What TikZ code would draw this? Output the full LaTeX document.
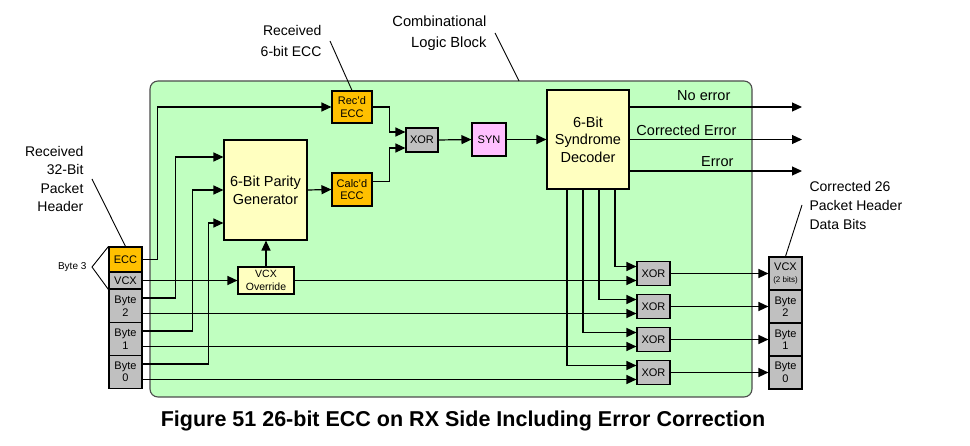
\documentclass[tikz,border=0pt]{standalone}
\usepackage{fontspec}
\setmainfont{Liberation Sans}
\usetikzlibrary{arrows.meta}
\definecolor{blockgreen}{HTML}{C0FFC0}
\definecolor{eccorange}{HTML}{FFC000}
\definecolor{boxgray}{HTML}{C0C0C0}
\definecolor{genyellow}{HTML}{FFFFC0}
\definecolor{synpink}{HTML}{FFC0FF}
\newcommand{\fsz}[2]{\fontsize{#1}{#2}\selectfont}

\begin{document}
\begin{tikzpicture}[x=1pt, y=-1pt, line width=1.2pt,
  wire/.style={-{Triangle[length=10pt,width=9pt]}},
  lead/.style={line width=0.9pt},
  blk/.style={draw, line width=1.1pt, inner sep=0pt, align=center, font=\fsz{11}{12.5}},
  cell/.style={blk, fill=boxgray, minimum width=33pt, minimum height=33pt},
  xorbox/.style={blk, fill=boxgray, minimum width=33pt, minimum height=24pt},
  note/.style={font=\fsz{14}{19}, inner sep=0pt}]
  \useasboundingbox (0,0) rectangle (970,446);

  % combinational block
  \node[draw=black!70, line width=1.1pt, fill=blockgreen, rounded corners=8pt,
    minimum width=602pt, minimum height=316pt] (clb) at (451,239) {};

  % received header
  \node[blk, fill=eccorange, minimum width=33pt, minimum height=25pt] (lecc) at (125.5,259.5) {ECC};
  \node[blk, fill=boxgray, minimum width=33pt, minimum height=17pt] (lvcx) at (125.5,280.5) {VCX};
  \node[cell] (lb2) at (125.5,306) {Byte\\2};
  \node[cell] (lb1) at (125.5,339) {Byte\\1};
  \node[cell] (lb0) at (125.5,372) {Byte\\0};

  % logic
  \node[blk, fill=genyellow, font=\fsz{14.5}{18}, minimum width=83pt, minimum height=100pt] (gen) at (265.5,190) {6-Bit Parity\\Generator};
  \node[blk, fill=eccorange, minimum width=40pt, minimum height=32pt] (recd) at (352,107) {Rec'd\\ECC};
  \node[blk, fill=eccorange, minimum width=40pt, minimum height=33pt] (calc) at (352,189.5) {Calc'd\\ECC};
  \node[blk, fill=boxgray, minimum width=32pt, minimum height=24pt] (xe) at (422,140) {XOR};
  \node[blk, fill=synpink, minimum width=34pt, minimum height=33pt] (syn) at (489,139.5) {SYN};
  \node[blk, fill=genyellow, font=\fsz{14.5}{17.5}, minimum width=82pt, minimum height=99pt] (dec) at (588,139.5) {6-Bit\\Syndrome\\Decoder};
  \node[blk, fill=genyellow, font=\fsz{10.5}{12.5}, minimum width=56pt, minimum height=27pt] (ovr) at (266,280.5) {VCX\\Override};
  \node[xorbox] (x1) at (653.5,273.5) {XOR};
  \node[xorbox] (x2) at (653.5,306.5) {XOR};
  \node[xorbox] (x3) at (653.5,339.5) {XOR};
  \node[xorbox] (x4) at (653.5,372.5) {XOR};

  % corrected header
  \node[cell] (rvcx) at (785.5,273.5) {VCX\\[-1pt]{\fsz{8}{10}(2 bits)}};
  \node[cell] (rb2) at (785.5,306.5) {Byte\\2};
  \node[cell] (rb1) at (785.5,339.5) {Byte\\1};
  \node[cell] (rb0) at (785.5,372.5) {Byte\\0};

  % wires
  \coordinate (g1) at ([yshift=33pt]gen.west);
  \coordinate (g2) at (gen.west);
  \coordinate (g3) at ([yshift=-33pt]gen.west);
  \draw[wire] (lecc.east) -- ++(15,0) |- (recd.west);
  \draw[wire] (lvcx.east) -- (ovr.west);
  \draw[wire] (ovr.north) -- (ovr.north |- gen.south);
  \draw[wire] ([yshift=8pt]lb2.east) -- ++(33,0) |- (g1);
  \draw[wire] ([yshift=8pt]lb1.east) -- ++(50,0) |- (g2);
  \draw[wire] ([yshift=8pt]lb0.east) -- ++(66,0) |- (g3);
  \draw[wire] (gen.east) -- (calc.west);
  \draw[wire] (recd.east) -- ++(17,0) |- ([yshift=8pt]xe.west);
  \draw[wire] ([yshift=8pt]calc.east) -- ++(17,0) |- ([yshift=-8pt]xe.west);
  \draw[wire] (xe.east) -- (syn.west);
  \draw[wire] (syn.east) -- (dec.west);

  % decoder outputs
  \coordinate (o1) at (802,107);
  \coordinate (o2) at (802,139.5);
  \coordinate (o3) at (802,171);
  \draw[wire] (dec.east |- o1) -- (o1);
  \draw[wire] (dec.east |- o2) -- (o2);
  \draw[wire] (dec.east |- o3) -- (o3);
  \node[font=\fsz{14.5}{16}, anchor=base east, inner sep=0pt] (lno) at (731,101) {No error};
  \node[font=\fsz{14.5}{16}, anchor=base east, inner sep=0pt] (lce) at (737,136) {Corrected Error};
  \node[font=\fsz{14.5}{16}, anchor=base east, inner sep=0pt] (ler) at (734,167) {Error};

  % correction
  \foreach \i/\dx in {1/27,2/11,3/-5,4/-21}
    \draw[wire] ([xshift=\dx pt]dec.south) |- ([yshift=7pt]x\i.west);
  \foreach \i in {1,...,4}
    \coordinate (x\i b) at ([yshift=-7pt]x\i.west);
  \draw[wire] (ovr.east) -- (x1b);
  \draw[wire] (lb2.east |- x2b) -- (x2b);
  \draw[wire] (lb1.east |- x3b) -- (x3b);
  \draw[wire] (lb0.east |- x4b) -- (x4b);
  \draw[wire] (x1.east) -- (rvcx.west);
  \draw[wire] (x2.east) -- (rb2.west);
  \draw[wire] (x3.east) -- (rb1.west);
  \draw[wire] (x4.east) -- (rb0.west);

  % callouts
  \node[note, font=\fsz{14}{18.5}, align=right, anchor=east] (lrh) at (84,179) {Received\\32-Bit\\Packet\\Header};
  \draw[lead] ([xshift=8pt]lrh.east) -- (lecc.north);
  \node[font=\fsz{10}{12}, inner sep=0pt, anchor=east] (lb3) at (87,267) {Byte 3};
  \draw[lead] (lecc.north west) -- ([xshift=5pt]lb3.east) -- (lvcx.south west);
  \node[note, font=\fsz{14}{21.5}, align=right, anchor=east] (lre) at (322,41) {Received\\6-bit ECC};
  \draw[lead] ([xshift=8pt]lre.east) -- (recd.north);
  \node[note, font=\fsz{14.7}{21}, align=right, anchor=east] (lcb) at (487,33) {Combinational\\Logic Block};
  \coordinate (cbtip) at (519,81);
  \draw[lead] ([xshift=8pt]lcb.east) -- (cbtip);
  \node[note, align=left, anchor=west] (lch) at (809,205) {Corrected 26\\Packet Header\\Data Bits};
  \draw[lead] ([xshift=-7pt]lch.west) -- (rvcx.north);

  \node[font=\bfseries\fsz{21.5}{25}] (cap) at (463,421) {Figure 51 26-bit ECC on RX Side Including Error Correction};
\end{tikzpicture}
\end{document}
